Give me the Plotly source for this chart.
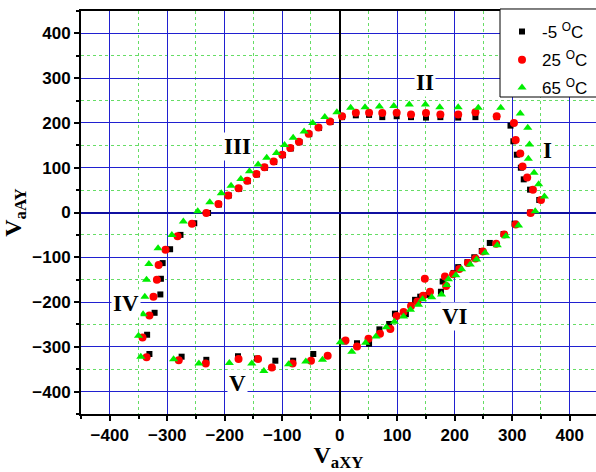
import plotly.graph_objects as go

# ---- data ----
x_m5 = [4, 28, 51, 74, 99, 124, 150, 175, 206, 236, 273, 297,
        302, 308, 315, 320, 331, 347, 331, 304, 285, 261,
        247, 234, 222, 206, 198, 179, 176, 154, 140, 131, 124, 115, 96, 86, 69, 51, 30, 8,
        -46, -81, -112, -144, -177, -232, -275, -331,
        -335, -322, -312, -311, -308, -295, -277,
        -253, -229, -210, -193, -175, -160, -144, -130, -114, -99, -85, -70, -53, -36, -16]
y_m5 = [213, 217, 218, 213, 215, 213, 212, 213, 212, 213, 213, 194,
        159, 129, 100, 74, 51, 28, 0, -25, -48, -68,
        -86, -100, -111, -122, -135, -154, -177, -184, -188, -195, -208, -227, -226, -249, -261, -293, -292, -288,
        -316, -331, -331, -326, -321, -329, -322, -316,
        -273, -224, -183, -148, -113, -82, -50,
        -24, -1, 18, 38, 53, 70, 85, 100, 113, 128, 143, 157, 175, 189, 202]

x_25 = [4, 28, 51, 74, 99, 124, 150, 175, 206, 236, 273, 303,
        306, 314, 318, 326, 336, 350, 332, 306, 286, 272,
        249, 236, 223, 208, 197, 183, 148, 185, 157, 145, 135, 124, 111, 99, 88, 70, 50, 30, 10,
        -21, -50, -82, -118, -142, -176, -233, -280, -336,
        -343, -331, -324, -318, -315, -303, -282,
        -257, -232, -211, -194, -176, -161, -145, -131, -115, -100, -86, -71, -54, -37, -17]
y_25 = [215, 223, 223, 222, 223, 219, 222, 219, 219, 224, 215, 200,
        162, 132, 103, 78, 51, 28, -1, -27, -49, -70,
        -87, -103, -113, -126, -138, -143, -148, -164, -177, -186, -199, -209, -222, -231, -260, -271, -282, -299, -286,
        -320, -331, -337, -346, -327, -327, -337, -330, -323,
        -279, -230, -188, -150, -117, -83, -53,
        -25, -1, 19, 38, 54, 71, 86, 101, 114, 129, 144, 158, 176, 190, 203]

x_65 = [-5, 19, 44, 69, 94, 121, 149, 174, 206, 241, 280, 314,
        327, 330, 328, 338, 346, 356, 340, 311, 289, 274,
        253, 238, 227, 212, 202, 189, 186, 177, 160, 144, 137, 123, 111, 95, 81, 63, 45, 21, 1,
        -30, -59, -89, -132, -153, -192, -245, -289, -346,
        -350, -342, -339, -336, -332, -316, -292,
        -272, -247, -226, -206, -189, -172, -157, -142, -127, -110, -96, -81, -62, -47, -26]
y_65 = [224, 234, 235, 237, 238, 241, 241, 235, 235, 234, 234, 221,
        189, 152, 120, 89, 63, 36, 3, -29, -53, -73,
        -90, -105, -116, -127, -140, -149, -162, -183, -189, -194, -206, -217, -232, -244, -256, -277, -291, -311, -290,
        -329, -333, -339, -354, -337, -336, -337, -328, -322,
        -275, -227, -188, -150, -115, -80, -50,
        -20, 3, 23, 43, 60, 75, 92, 107, 122, 133, 151, 167, 181, 200, 213]

series_names = ["-5 <sup>O</sup>C", "25 <sup>O</sup>C", "65 <sup>O</sup>C"]
tick_vals = [-400, -300, -200, -100, 0, 100, 200, 300, 400]
region_labels = ["I", "II", "III", "IV", "V", "VI"]
region_x = [362, 148, -177, -372, -177, 200]
region_y = [139, 291, 148, -203, -381, -232]

fig = go.Figure()
fig.add_trace(go.Scatter(x=x_m5, y=y_m5, mode="markers", name=series_names[0], legend="legend",
                         marker=dict(symbol="square", size=6, color="#000000")))
fig.add_trace(go.Scatter(x=x_25, y=y_25, mode="markers", name=series_names[1], legend="legend2",
                         marker=dict(symbol="circle", size=8, color="#ff0000")))
fig.add_trace(go.Scatter(x=x_65, y=y_65, mode="markers", name=series_names[2], legend="legend3",
                         marker=dict(symbol="triangle-up", size=8, color="#00ee00")))

for t, xx, yy in zip(region_labels, region_x, region_y):
    fig.add_annotation(x=xx, y=yy, text=t, showarrow=False, bgcolor="white",
                       font=dict(family="Liberation Serif", size=23, color="black", weight="bold"))

tickfont = dict(family="Liberation Sans", size=17, color="black", weight="bold")
axis_common = dict(
    tickvals=tick_vals, ticks="outside", ticklen=5, tickwidth=2, tickcolor="black",
    showline=True, linewidth=2, linecolor="black",
    showgrid=True, gridcolor="#2020d0", gridwidth=1,
    minor=dict(dtick=50, tick0=0, showgrid=True, gridcolor="#66dd66", griddash="dot",
               gridwidth=1, ticks="outside", ticklen=3, tickcolor="black"),
    tickfont=tickfont, automargin=False,
)

fig.update_xaxes(range=[-450, 445.7], mirror=True, zeroline=True, zerolinecolor="black",
                 zerolinewidth=2,
                 title=dict(text="V<sub>aXY</sub>", standoff=8,
                            font=dict(family="Liberation Serif", size=24, color="black", weight="bold")),
                 **axis_common)
fig.update_yaxes(range=[-450, 450], zeroline=True, zerolinecolor="#1010a0", zerolinewidth=2,
                 title=dict(text="V<sub>aAY</sub>", standoff=6,
                            font=dict(family="Liberation Serif", size=24, color="black", weight="bold")),
                 **axis_common)

# legend frame
fig.add_shape(type="rect", xref="paper", yref="paper", x0=0.8136, x1=1.02, y0=0.7866, y1=1.005,
              fillcolor="white", line=dict(color="black", width=1), layer="above")

leg_common = dict(xanchor="left", yanchor="middle", bgcolor="rgba(0,0,0,0)", borderwidth=0,
                  font=dict(family="Liberation Sans", size=17, color="black"), itemwidth=30)
fig.update_layout(
    width=596, height=472,
    margin=dict(l=81, r=0, t=11, b=58),
    plot_bgcolor="white", paper_bgcolor="white",
    showlegend=True,
    legend=dict(x=0.8175, y=0.948, **leg_common),
    legend2=dict(x=0.8175, y=0.878, **leg_common),
    legend3=dict(x=0.8175, y=0.809, **leg_common),
)

fig.write_html("out.html")
